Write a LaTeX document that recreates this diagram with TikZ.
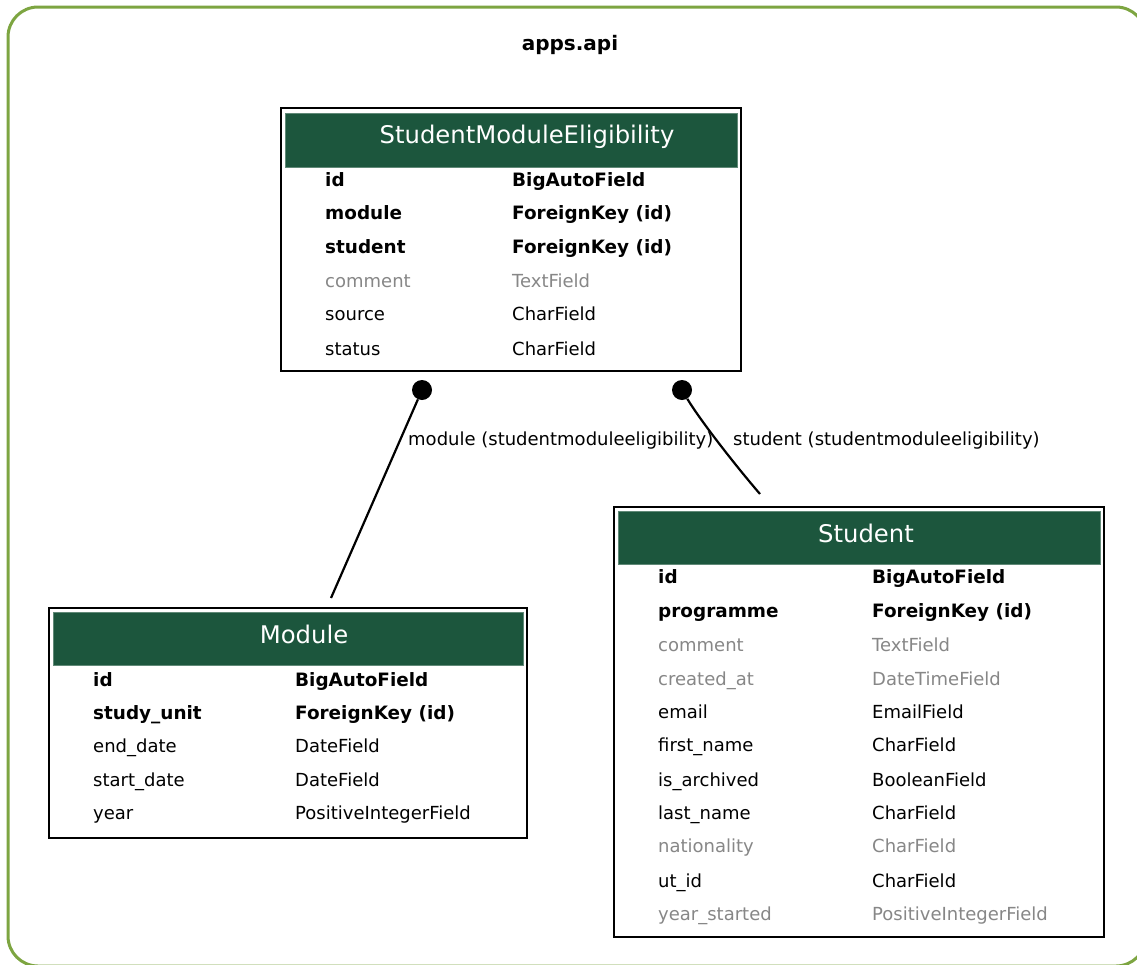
\documentclass[tikz,border=0pt]{standalone}
\usepackage{fontspec}
\setmainfont{DejaVu Sans}
\definecolor{framegreen}{RGB}{125,165,65}
\definecolor{headgreen}{RGB}{28,86,61}
\definecolor{nullgray}{RGB}{135,135,135}
\newcommand\rowfont{\fontsize{18}{20}\selectfont}
\newcommand\keyfont{\fontsize{18.4}{20}\selectfont\bfseries}
\newcommand\headfont{\fontsize{24.3}{27}\selectfont}
\newcommand\titlefont{\fontsize{20}{22}\selectfont\bfseries}
\tikzset{
  tablebox/.style={draw=black, line width=2.4pt, fill=white, inner sep=0pt, anchor=north west},
  headbox/.style={fill=headgreen, draw=headgreen!70!white, line width=0.6pt, inner sep=0pt, anchor=north west},
  headtext/.style={anchor=base, inner sep=0pt, text=white, font=\headfont},
  cell/.style={anchor=base west, inner sep=0pt, font=\rowfont},
  keycell/.style={cell, font=\keyfont},
  optcell/.style={cell, text=nullgray},
  dotend/.style={circle, fill=black, inner sep=0pt, minimum size=20pt},
  edge/.style={draw=black, line width=2.2pt},
  edgelabel/.style={anchor=base west, inner sep=0pt, font=\rowfont},
}
\begin{document}
\begin{tikzpicture}[x=1pt, y=-1pt]
\useasboundingbox (0,0) rectangle (1137,964);
\clip (0,0) rectangle (1137,964);

% package frame
\draw[framegreen, line width=3pt, rounded corners=30pt] (8,7) rectangle (1146,966);
\node[anchor=base, inner sep=0pt, font=\titlefont] (title) at (570,50) {apps.api};

% ---- StudentModuleEligibility ----
\node[tablebox, minimum width=460pt, minimum height=263pt] (sme) at (280,107) {};
\node[headbox, minimum width=452pt, minimum height=54pt] (smehead) at (285,113) {};
\node[headtext] (smetitle) at (527,143) {StudentModuleEligibility};
\node[keycell] (sme1a) at (325,186) {id};
\node[keycell] (sme1b) at (512,186) {BigAutoField};
\node[keycell] (sme2a) at (325,219) {module};
\node[keycell] (sme2b) at (512,219) {ForeignKey (id)};
\node[keycell] (sme3a) at (325,253) {student};
\node[keycell] (sme3b) at (512,253) {ForeignKey (id)};
\node[optcell] (sme4a) at (325,287) {comment};
\node[optcell] (sme4b) at (512,287) {TextField};
\node[cell] (sme5a) at (325,320) {source};
\node[cell] (sme5b) at (512,320) {CharField};
\node[cell] (sme6a) at (325,355) {status};
\node[cell] (sme6b) at (512,355) {CharField};

% ---- Module ----
\node[tablebox, minimum width=478pt, minimum height=230pt] (module) at (48,607) {};
\node[headbox, minimum width=470pt, minimum height=53pt] (modhead) at (53,612) {};
\node[headtext] (modtitle) at (304,643) {Module};
\node[keycell] (mod1a) at (93,686) {id};
\node[keycell] (mod1b) at (295,686) {BigAutoField};
\node[keycell] (mod2a) at (93,719) {study\_unit};
\node[keycell] (mod2b) at (295,719) {ForeignKey (id)};
\node[cell] (mod3a) at (93,752) {end\_date};
\node[cell] (mod3b) at (295,752) {DateField};
\node[cell] (mod4a) at (93,786) {start\_date};
\node[cell] (mod4b) at (295,786) {DateField};
\node[cell] (mod5a) at (93,819) {year};
\node[cell] (mod5b) at (295,819) {PositiveIntegerField};

% ---- Student ----
\node[tablebox, minimum width=490pt, minimum height=430pt] (student) at (613,506) {};
\node[headbox, minimum width=482pt, minimum height=53pt] (stuhead) at (618,511) {};
\node[headtext] (stutitle) at (866,542) {Student};
\node[keycell] (stu1a) at (658,583) {id};
\node[keycell] (stu1b) at (872,583) {BigAutoField};
\node[keycell] (stu2a) at (658,617) {programme};
\node[keycell] (stu2b) at (872,617) {ForeignKey (id)};
\node[optcell] (stu3a) at (658,651) {comment};
\node[optcell] (stu3b) at (872,651) {TextField};
\node[optcell] (stu4a) at (658,685) {created\_at};
\node[optcell] (stu4b) at (872,685) {DateTimeField};
\node[cell] (stu5a) at (658,718) {email};
\node[cell] (stu5b) at (872,718) {EmailField};
\node[cell] (stu6a) at (658,751) {first\_name};
\node[cell] (stu6b) at (872,751) {CharField};
\node[cell] (stu7a) at (658,786) {is\_archived};
\node[cell] (stu7b) at (872,786) {BooleanField};
\node[cell] (stu8a) at (658,819) {last\_name};
\node[cell] (stu8b) at (872,819) {CharField};
\node[optcell] (stu9a) at (658,852) {nationality};
\node[optcell] (stu9b) at (872,852) {CharField};
\node[cell] (stu10a) at (658,887) {ut\_id};
\node[cell] (stu10b) at (872,887) {CharField};
\node[optcell] (stu11a) at (658,920) {year\_started};
\node[optcell] (stu11b) at (872,920) {PositiveIntegerField};

% ---- relations ----
\node[dotend] (dotmod) at (422,390) {};
\node[dotend] (dotstu) at (682,390) {};
\coordinate (modend) at (331,598);
\coordinate (stuend) at (760,494);
\draw[edge] (dotmod) -- (modend);
\draw[edge] (dotstu) .. controls (700,420) and (735,465) .. (stuend);
\node[edgelabel] (labmod) at (408,445) {module (studentmoduleeligibility)};
\node[edgelabel] (labstu) at (733,445) {student (studentmoduleeligibility)};
\end{tikzpicture}
\end{document}
